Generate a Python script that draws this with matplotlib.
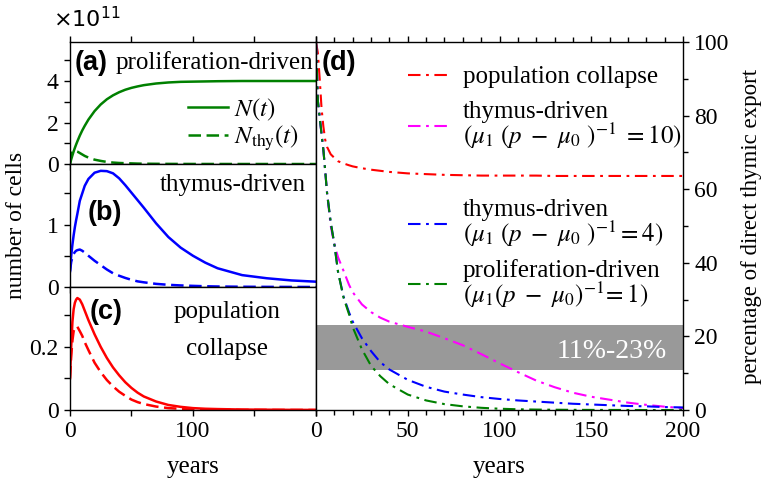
import matplotlib.pyplot as plt
from matplotlib.ticker import MultipleLocator
import numpy as np

plt.rcParams['font.family'] = ['Liberation Serif', 'DejaVu Serif']
plt.rcParams['mathtext.fontset'] = 'stix'
plt.rcParams['font.size'] = 18
plt.rcParams['xtick.labelsize'] = 17
plt.rcParams['ytick.labelsize'] = 17
plt.rcParams['lines.scale_dashes'] = False

# time grid (years) for the cell-number panels
t_cells = [0, 1, 2, 3, 4, 5, 6, 8, 10, 12, 15, 20, 25, 30, 35, 40, 45, 50,
           55, 60, 70, 80, 90, 100, 110, 120, 140, 160, 180, 200]

# (a) proliferation-driven, in units of 1e11 cells
n_prolif = [0.0, 0.22, 0.42, 0.61, 0.78, 0.94, 1.09, 1.37, 1.62, 1.84, 2.14,
            2.55, 2.87, 3.12, 3.31, 3.46, 3.58, 3.67, 3.74, 3.80, 3.88, 3.93,
            3.96, 3.97, 3.98, 3.99, 4.0, 4.0, 4.0, 4.0]
nthy_prolif = [0.0, 0.45, 0.6, 0.65, 0.64, 0.62, 0.6, 0.53, 0.46, 0.39, 0.31,
               0.21, 0.15, 0.1, 0.07, 0.05, 0.04, 0.03, 0.02, 0.015, 0.01,
               0.006, 0.004, 0.003, 0.002, 0.002, 0.001, 0.001, 0.0, 0.0]

# (b) thymus-driven
n_thymus = [0.25, 0.5, 0.68, 0.83, 0.96, 1.07, 1.17, 1.38, 1.5, 1.62, 1.73,
            1.83, 1.86, 1.855, 1.82, 1.74, 1.63, 1.51, 1.39, 1.27, 1.02, 0.8,
            0.63, 0.5, 0.39, 0.3, 0.19, 0.14, 0.105, 0.085]
nthy_thymus = [0.25, 0.4, 0.48, 0.53, 0.56, 0.58, 0.59, 0.6, 0.58, 0.55, 0.5,
               0.42, 0.35, 0.28, 0.22, 0.18, 0.145, 0.115, 0.09, 0.075, 0.05,
               0.035, 0.025, 0.018, 0.012, 0.008, 0.004, 0.002, 0.001, 0.0]

# (c) population collapse
n_collapse = [0.1, 0.2, 0.28, 0.32, 0.34, 0.35, 0.355, 0.35, 0.335, 0.315,
              0.285, 0.24, 0.2, 0.165, 0.135, 0.11, 0.088, 0.07, 0.055, 0.043,
              0.027, 0.016, 0.01, 0.006, 0.004, 0.003, 0.0015, 0.001, 0.0005,
              0.0003]
nthy_collapse = [0.1, 0.17, 0.22, 0.25, 0.26, 0.265, 0.264, 0.25, 0.235,
                 0.215, 0.19, 0.15, 0.12, 0.095, 0.075, 0.058, 0.045, 0.033,
                 0.025, 0.019, 0.011, 0.006, 0.004, 0.002, 0.0015, 0.001,
                 0.0005, 0.0003, 0.0002, 0.0001]

# (d) percentage of direct thymic export
t_export = [0, 1, 2, 3, 4, 5, 6, 8, 10, 12, 15, 18, 20, 25, 30, 35, 40, 50,
            60, 70, 80, 90, 100, 110, 120, 130, 140, 150, 160, 170, 180, 190,
            200]
pct_collapse = [100, 97, 90, 82, 77, 73.4, 71.5, 69.5, 68.5, 67.6, 67.0, 66.5,
                66.2, 65.7, 65.3, 65.0, 64.7, 64.3, 64.1, 63.9, 63.8, 63.7,
                63.7, 63.7, 63.7, 63.6, 63.6, 63.6, 63.6, 63.6, 63.6, 63.6,
                63.6]
pct_thymus10 = [100, 84, 79.5, 75, 70.7, 65, 59, 50, 45, 41.5, 37.8, 34,
                32.0, 28.7, 26.6, 25.1, 24.0, 22.6, 21.3, 19.5, 17.6, 15.2,
                12.7, 10.3, 8.0, 6.2, 4.7, 3.6, 2.8, 2.0, 1.4, 0.9, 0.5]
pct_thymus4 = [100, 84, 79.5, 75, 70.7, 65, 59, 51, 45, 37.5, 30.8, 26.5, 24,
               19.5, 16, 13, 11, 8.2, 6.3, 5.0, 4.2, 3.5, 3.0, 2.6, 2.3, 2.0,
               1.7, 1.5, 1.3, 1.1, 1.0, 0.8, 0.7]
pct_prolif1 = [100, 84, 79.5, 75, 70.7, 65, 59, 51, 45, 37.5, 30.5, 26, 22.5,
               16.5, 12, 9.2, 7, 4.2, 2.6, 1.6, 1.0, 0.6, 0.35, 0.2, 0.12,
               0.08, 0.05, 0.03, 0.02, 0.01, 0.0, 0.0, 0.0]
band_lo, band_hi = 11, 23

fig = plt.figure(figsize=(7.63, 4.8), dpi=100)
ax_a = fig.add_axes([0.0917, 0.6583, 0.3224, 0.2542])
ax_b = fig.add_axes([0.0917, 0.4021, 0.3224, 0.2563])
ax_c = fig.add_axes([0.0917, 0.1458, 0.3224, 0.2563])
ax_d = fig.add_axes([0.4142, 0.1458, 0.4810, 0.7667])

lw = 1.8
dash = (9, 4)
panels = [
    (ax_a, n_prolif, nthy_prolif, 'green', (0, 5.88), 2, 1),
    (ax_b, n_thymus, nthy_thymus, 'blue', (0, 1.97), 1, 0.5),
    (ax_c, n_collapse, nthy_collapse, 'red', (0, 0.39), 0.2, 0.1),
]
for ax, n, nthy, col, ylim, major, minor in panels:
    ax.plot(t_cells, n, color=col, lw=lw, label=r'$N(t)$')
    ax.plot(t_cells, nthy, color=col, lw=lw, dashes=dash,
            label=r'$N_{\rm thy}(t)$')
    ax.set_xlim(0, 200)
    ax.set_ylim(*ylim)
    ax.set_xticks([0, 100, 200])
    ax.xaxis.set_minor_locator(MultipleLocator(50))
    ax.yaxis.set_major_locator(MultipleLocator(major))
    ax.yaxis.set_minor_locator(MultipleLocator(minor))
    ax.tick_params(which='both', length=4.5, width=1)
    ax.set_xticklabels([])
    for s in ax.spines.values():
        s.set_linewidth(1)

ax_a.tick_params(which='both', top=True)
ax_a.set_yticks([0, 2, 4])
ax_a.set_yticklabels(['0', '2', '4'])
ax_b.set_yticks([0, 1])
ax_b.set_yticklabels(['0', '1'])
ax_c.set_yticks([0, 0.2])
ax_c.set_yticklabels(['0', '0.2'])
ax_c.set_xticklabels(['0', '100', ''])
ax_c.set_xlabel('years', labelpad=10)

ax_a.legend(loc='upper left', bbox_to_anchor=(0.48, 0.555), frameon=False,
            handlelength=1.6, handletextpad=0.25, labelspacing=0.05,
            borderpad=0, borderaxespad=0, fontsize=18)

bold = dict(family=['Liberation Sans', 'DejaVu Sans'], weight='bold',
            size=19.5)
ax_a.text(0.02, 0.83, '(a)', transform=ax_a.transAxes, va='center', **bold)
ax_a.text(0.99, 0.83, 'proliferation-driven', transform=ax_a.transAxes,
          va='center', ha='right')
ax_b.text(0.073, 0.6, '(b)', transform=ax_b.transAxes, va='center', **bold)
ax_b.text(0.96, 0.83, 'thymus-driven', transform=ax_b.transAxes,
          va='center', ha='right')
ax_c.text(0.08, 0.8, '(c)', transform=ax_c.transAxes, va='center', **bold)
ax_c.text(0.64, 0.8, 'population', transform=ax_c.transAxes,
          va='center', ha='center')
ax_c.text(0.64, 0.5, 'collapse', transform=ax_c.transAxes,
          va='center', ha='center')

fig.text(17 / 763, 1 - 225 / 480, 'number of cells', rotation=90,
         ha='center', va='center', size=17)
fig.text(53 / 763, 1 - 27 / 480, r'$\times10^{11}$', math_fontfamily='dejavusans',
         size=16, va='baseline')

# panel (d)
ax_d.axhspan(band_lo, band_hi, color='#999999', lw=0, zorder=0)
ax_d.text(0.956, 0.158, '11%-23%', transform=ax_d.transAxes, ha='right',
          va='center', color='white', size=20)
dd = (9, 4, 2, 4)
l1, = ax_d.plot(t_export, pct_collapse, color='red', lw=1.5, dashes=dd)
l2, = ax_d.plot(t_export, pct_thymus10, color='magenta', lw=1.5, dashes=dd)
l3, = ax_d.plot(t_export, pct_thymus4, color='blue', lw=1.5, dashes=dd)
l4, = ax_d.plot(t_export, pct_prolif1, color='green', lw=1.5, dashes=dd)
ax_d.set_xlim(0, 200)
ax_d.set_ylim(0, 100)
ax_d.set_xticks([0, 50, 100, 150, 200])
ax_d.xaxis.set_minor_locator(MultipleLocator(10))
ax_d.yaxis.set_major_locator(MultipleLocator(20))
ax_d.yaxis.set_minor_locator(MultipleLocator(10))
ax_d.yaxis.tick_right()
ax_d.tick_params(which='both', top=True, left=False, right=True, width=1)
ax_d.tick_params(which='major', length=4.5)
ax_d.tick_params(which='minor', length=3.5)
for s in ax_d.spines.values():
    s.set_linewidth(1)
ax_d.set_xlabel('years', labelpad=10)
fig.text(752 / 763, 1 - 226 / 480, 'percentage of direct thymic export',
         rotation=90, ha='center', va='center', size=16.5)
ax_d.text(0.016, 0.943, '(d)', transform=ax_d.transAxes, va='center', **bold)

leg_kw = dict(loc='upper left', frameon=False, handlelength=1.6,
              handletextpad=0.6, labelspacing=0.5, borderpad=0,
              borderaxespad=0, fontsize=18)
leg1 = ax_d.legend([l1, l2],
                   ['population collapse',
                    'thymus-driven\n' r'$(\mu_1\ (p\ -\ \mu_0\ )^{-1}\ =10)$'],
                   bbox_to_anchor=(0.25, 0.935), **leg_kw)
ax_d.add_artist(leg1)
leg_kw['labelspacing'] = 0.4
leg2 = ax_d.legend([l3, l4],
                   ['thymus-driven\n' r'$(\mu_1\ (p\ -\ \mu_0\ )^{-1}=4)$',
                    'proliferation-driven\n' r'$(\mu_1 (p\ -\ \mu_0)^{-1}\!=1)$'],
                   bbox_to_anchor=(0.25, 0.573), **leg_kw)
for leg in (leg1, leg2):
    for txt in leg.get_texts():
        txt.set_linespacing(0.9)

fig.savefig('out.png', dpi=100)
